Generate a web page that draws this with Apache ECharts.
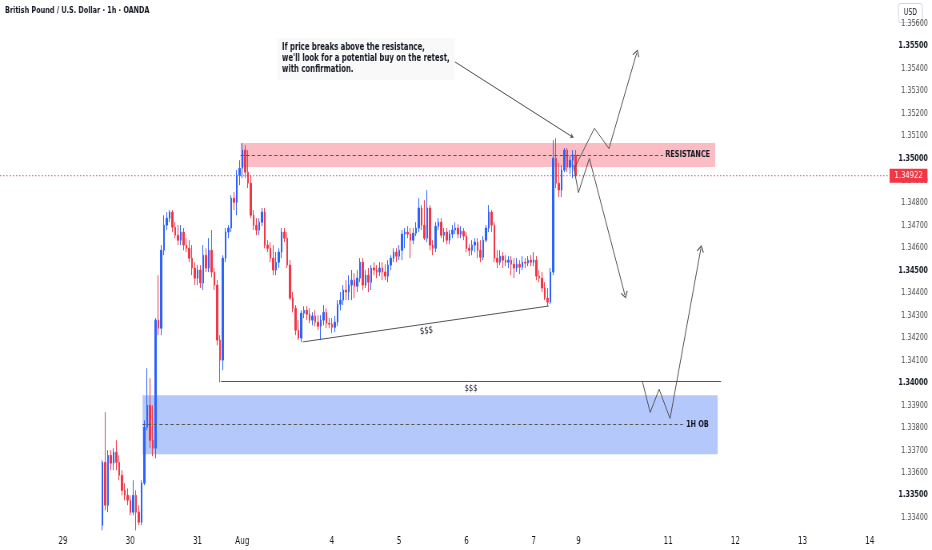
<!DOCTYPE html>
<html><head><meta charset="utf-8">
<script src="https://cdn.jsdelivr.net/npm/echarts@6/dist/echarts.min.js"></script>
<style>
html,body{margin:0;padding:0;background:#fff;overflow:hidden}
#wrap{width:932px;height:550px;overflow:hidden}
#c{width:1165px;height:550px;transform:scaleX(0.8);transform-origin:0 0}
</style>
</head><body><div id="wrap"><div id="c"></div></div>
<script>
const FONT = "'Liberation Sans Narrow','DejaVu Sans Condensed',Roboto,sans-serif";
const SX = 0.8; // horizontal squeeze of the page, matching the reference screenshot
const firstBar = 36;
const barCount = 317;
const opens = [1.33366,1.33646,1.33455,1.33677,1.33642,1.33691,1.33646,1.33588,1.33521,1.33499,1.33477,1.33424,1.33499,1.33424,1.33379,1.33553,1.33802,1.33900,1.33744,1.33709,
1.34279,1.34243,1.34590,1.34702,1.34733,1.34760,1.34693,1.34657,1.34635,1.34671,1.34613,1.34599,1.34555,1.34511,1.34466,1.34502,1.34444,1.34568,1.34511,1.34590,
1.34493,1.34435,1.34190,1.34101,1.34555,1.34671,1.34689,1.34822,1.34804,1.34924,1.34955,1.35036,1.34938,1.34889,1.34746,1.34702,1.34680,1.34715,1.34760,1.34613,
1.34599,1.34555,1.34502,1.34537,1.34582,1.34671,1.34644,1.34524,1.34377,1.34332,1.34234,1.34199,1.34310,1.34323,1.34305,1.34279,1.34297,1.34270,1.34252,1.34279,
1.34314,1.34265,1.34261,1.34247,1.34270,1.34350,1.34368,1.34413,1.34404,1.34435,1.34457,1.34430,1.34466,1.34537,1.34435,1.34479,1.34448,1.34511,1.34502,1.34493,
1.34511,1.34493,1.34475,1.34524,1.34555,1.34582,1.34564,1.34590,1.34662,1.34671,1.34662,1.34635,1.34666,1.34689,1.34778,1.34702,1.34644,1.34778,1.34613,1.34599,
1.34697,1.34715,1.34657,1.34671,1.34635,1.34662,1.34680,1.34689,1.34662,1.34675,1.34653,1.34599,1.34590,1.34613,1.34626,1.34590,1.34559,1.34635,1.34689,1.34760,
1.34702,1.34555,1.34537,1.34564,1.34546,1.34537,1.34546,1.34528,1.34511,1.34528,1.34515,1.34537,1.34533,1.34546,1.34537,1.34546,1.34475,1.34466,1.34422,1.34377,
1.34359,1.34493,1.35000,1.34889,1.34858,1.34947,1.35036,1.34960,1.34991,1.35014];
const closes = [1.33646,1.33455,1.33677,1.33642,1.33691,1.33646,1.33588,1.33521,1.33499,1.33477,1.33424,1.33499,1.33424,1.33379,1.33553,1.33802,1.33900,1.33744,1.33709,1.34279,
1.34243,1.34590,1.34702,1.34733,1.34760,1.34693,1.34657,1.34635,1.34671,1.34613,1.34599,1.34555,1.34511,1.34466,1.34502,1.34444,1.34568,1.34511,1.34590,1.34493,
1.34435,1.34190,1.34101,1.34555,1.34671,1.34689,1.34822,1.34804,1.34924,1.34955,1.35036,1.34938,1.34889,1.34746,1.34702,1.34680,1.34715,1.34760,1.34613,1.34599,
1.34555,1.34502,1.34537,1.34582,1.34671,1.34644,1.34524,1.34377,1.34332,1.34234,1.34199,1.34310,1.34323,1.34305,1.34279,1.34297,1.34270,1.34252,1.34279,1.34314,
1.34265,1.34261,1.34247,1.34270,1.34350,1.34368,1.34413,1.34404,1.34435,1.34457,1.34430,1.34466,1.34537,1.34435,1.34479,1.34448,1.34511,1.34502,1.34493,1.34511,
1.34493,1.34475,1.34524,1.34555,1.34582,1.34564,1.34590,1.34662,1.34671,1.34662,1.34635,1.34666,1.34689,1.34778,1.34702,1.34644,1.34778,1.34613,1.34599,1.34697,
1.34715,1.34657,1.34671,1.34635,1.34662,1.34680,1.34689,1.34662,1.34675,1.34653,1.34599,1.34590,1.34613,1.34626,1.34590,1.34559,1.34635,1.34689,1.34760,1.34702,
1.34555,1.34537,1.34564,1.34546,1.34537,1.34546,1.34528,1.34511,1.34528,1.34515,1.34537,1.34533,1.34546,1.34537,1.34546,1.34475,1.34466,1.34422,1.34377,1.34359,
1.34493,1.35000,1.34889,1.34858,1.34947,1.35036,1.34960,1.34991,1.35014,1.34922];
const lows = [1.33343,1.33432,1.33424,1.33611,1.33611,1.33611,1.33566,1.33499,1.33477,1.33455,1.33410,1.33410,1.33343,1.33366,1.33366,1.33544,1.33789,1.33709,1.33673,1.33664,
1.34212,1.34212,1.34568,1.34680,1.34715,1.34671,1.34644,1.34613,1.34613,1.34590,1.34582,1.34537,1.34479,1.34435,1.34435,1.34422,1.34413,1.34493,1.34493,1.34470,
1.34413,1.34167,1.34002,1.34056,1.34537,1.34644,1.34671,1.34769,1.34746,1.34880,1.34911,1.34911,1.34867,1.34733,1.34680,1.34657,1.34657,1.34697,1.34599,1.34582,
1.34537,1.34479,1.34479,1.34511,1.34555,1.34626,1.34511,1.34368,1.34314,1.34212,1.34190,1.34181,1.34288,1.34279,1.34265,1.34256,1.34252,1.34234,1.34190,1.34256,
1.34243,1.34243,1.34221,1.34225,1.34252,1.34323,1.34346,1.34368,1.34368,1.34368,1.34377,1.34404,1.34448,1.34413,1.34422,1.34404,1.34413,1.34479,1.34466,1.34475,
1.34457,1.34457,1.34448,1.34502,1.34537,1.34537,1.34546,1.34546,1.34599,1.34644,1.34555,1.34617,1.34653,1.34671,1.34680,1.34635,1.34626,1.34590,1.34568,1.34582,
1.34680,1.34644,1.34626,1.34617,1.34617,1.34644,1.34662,1.34644,1.34644,1.34635,1.34582,1.34564,1.34568,1.34582,1.34555,1.34537,1.34546,1.34626,1.34671,1.34671,
1.34537,1.34511,1.34524,1.34511,1.34519,1.34511,1.34479,1.34466,1.34493,1.34484,1.34502,1.34511,1.34519,1.34519,1.34519,1.34457,1.34448,1.34404,1.34368,1.34341,
1.34350,1.34479,1.34867,1.34827,1.34827,1.34938,1.34938,1.34929,1.34911,1.34911];
const highs = [1.33655,1.33869,1.33700,1.33700,1.33709,1.33744,1.33677,1.33611,1.33553,1.33530,1.33499,1.33566,1.33521,1.33455,1.33566,1.33833,1.34065,1.34020,1.33900,1.34288,
1.34479,1.34613,1.34746,1.34760,1.34769,1.34769,1.34715,1.34702,1.34702,1.34689,1.34644,1.34635,1.34613,1.34537,1.34524,1.34524,1.34613,1.34599,1.34644,1.34680,
1.34511,1.34457,1.34212,1.34568,1.34689,1.34702,1.34835,1.34849,1.34947,1.34991,1.35067,1.35058,1.35036,1.34924,1.34769,1.34733,1.34733,1.34778,1.34778,1.34635,
1.34626,1.34613,1.34582,1.34599,1.34689,1.34689,1.34671,1.34546,1.34404,1.34346,1.34279,1.34323,1.34341,1.34341,1.34332,1.34314,1.34323,1.34301,1.34301,1.34346,
1.34332,1.34288,1.34288,1.34297,1.34368,1.34404,1.34435,1.34457,1.34479,1.34502,1.34488,1.34502,1.34555,1.34555,1.34502,1.34511,1.34524,1.34537,1.34524,1.34537,
1.34537,1.34528,1.34546,1.34568,1.34599,1.34599,1.34613,1.34680,1.34689,1.34697,1.34689,1.34689,1.34715,1.34822,1.34791,1.34813,1.34858,1.34791,1.34635,1.34715,
1.34733,1.34733,1.34689,1.34689,1.34680,1.34702,1.34715,1.34706,1.34697,1.34689,1.34671,1.34617,1.34635,1.34644,1.34644,1.34635,1.34653,1.34702,1.34791,1.34769,
1.34715,1.34590,1.34590,1.34582,1.34568,1.34564,1.34564,1.34555,1.34555,1.34546,1.34564,1.34555,1.34564,1.34568,1.34582,1.34564,1.34502,1.34493,1.34448,1.34422,
1.34511,1.35080,1.35089,1.34978,1.34969,1.35045,1.35045,1.35014,1.35036,1.35036];
const lastPrice = 1.34922;
const dayTicks = [22,46,70,86,118,142,166,190,206,238,262,286,310];
const dayLabels = ['29','30','31','Aug','4','5','6','7','9','11','12','13','14'];
const priceMin = 1.333, priceMax = 1.357, priceStep = 0.001;

const resistanceZone = [[85.4,1.35068],[254.8,1.34961]];
const resistanceLine = [[85.4,1.35015],[236.2,1.35015]];
const obZone = [[50.4,1.33945],[255.7,1.33682]];
const obLine = [[50.4,1.33814],[243.3,1.33814]];
const sweepLow = [[78.4,1.34007],[256.9,1.34007]];
const sweepTrend = [[107.6,1.34182],[195.4,1.34342]];
const pointer = [[161.9,1.35429],[204.2,1.35092]];
const bullPath = [[204.8,1.34961],[211.7,1.35133],[216.9,1.35043],[226.8,1.35469]];
const bearPath = [[204.2,1.34969],[206.0,1.34847],[209.9,1.34999],[222.6,1.34390]];
const retestPath = [[228.8,1.34007],[231.6,1.33868],[234.8,1.33971],[238.7,1.33841],[249.7,1.34598]];

const CHEVRON = 'path://M0,9 L5,0 L10,9 L8.8,9.6 L5,2.6 L1.2,9.6 Z';
const LINE_C = '#4a4a4a';
const px = v => v / SX; // page pixel -> unsqueezed chart pixel

function segs(path, arrow) {
  const out = [];
  for (let k = 0; k < path.length - 1; k++) {
    const end = {coord: path[k + 1]};
    if (arrow && k === path.length - 2) { end.symbol = CHEVRON; end.symbolSize = [9, 7]; }
    out.push([{coord: path[k]}, end]);
  }
  return out;
}

const candleData = opens.map((o, k) => [firstBar + k, o, closes[k], lows[k], highs[k]]);

const lblStyle = {show: true, color: '#131722', fontFamily: FONT, fontSize: 9, fontWeight: 'bold'};

const annotationLines = [
  [{coord: resistanceLine[0], lineStyle: {type: [4, 3], color: '#555', width: 1},
    label: Object.assign({}, lblStyle, {position: 'end', formatter: 'RESISTANCE', distance: 3})},
   {coord: resistanceLine[1]}],
  [{coord: obLine[0], lineStyle: {type: [4, 3], color: '#555', width: 1},
    label: Object.assign({}, lblStyle, {position: 'end', formatter: '1H OB', distance: 4})},
   {coord: obLine[1]}],
  [{coord: sweepLow[0], lineStyle: {color: '#555', width: 1},
    label: Object.assign({}, lblStyle, {position: 'insideMiddleBottom', formatter: '$$$', distance: 2, fontWeight: 'normal', fontSize: 9.5})},
   {coord: sweepLow[1]}],
  [{coord: sweepTrend[0], lineStyle: {color: '#555', width: 1},
    label: Object.assign({}, lblStyle, {position: 'insideMiddleBottom', formatter: '$$$', distance: 2, fontWeight: 'normal', fontSize: 9.5})},
   {coord: sweepTrend[1]}],
  [{coord: pointer[0]}, {coord: pointer[1], symbol: 'arrow', symbolSize: [4, 4]}]
].concat(segs(bullPath, true), segs(bearPath, true), segs(retestPath, true));

const chart = echarts.init(document.getElementById('c'), null, {renderer: 'canvas'});
chart.setOption({
  animation: false,
  backgroundColor: '#ffffff',
  grid: {left: 0, right: px(44), top: 1, bottom: 10},
  xAxis: {
    type: 'value', min: -0.5, max: barCount - 0.5,
    offset: -8,
    axisLine: {show: false}, axisTick: {show: false}, splitLine: {show: false},
    axisLabel: {
      customValues: dayTicks, margin: 4,
      fontFamily: FONT, fontSize: 10, color: '#131722',
      formatter: v => dayLabels[dayTicks.indexOf(Math.round(v))] || ''
    }
  },
  yAxis: {
    type: 'value', position: 'right', min: priceMin, max: priceMax, interval: priceStep,
    axisLine: {show: false}, axisTick: {show: false}, splitLine: {show: false},
    axisLabel: {
      margin: px(40), align: 'right', fontFamily: FONT, fontSize: 9,
      formatter: v => {
        const k = Math.round(v * 1000);
        if (k <= Math.round(priceMin * 1000) || k >= Math.round(priceMax * 1000)) return '';
        const s = (k / 1000).toFixed(5);
        return k % 5 === 0 ? '{b|' + s + '}' : '{n|' + s + '}';
      },
      rich: {
        b: {fontFamily: FONT, fontSize: 9, fontWeight: 'bold', color: '#131722'},
        n: {fontFamily: FONT, fontSize: 9, color: '#4a4a4a'}
      }
    }
  },
  series: [
    {
      type: 'candlestick',
      data: candleData,
      encode: {x: 0, y: [1, 2, 3, 4]},
      barWidth: 2,
      itemStyle: {color: '#2962ff', color0: '#f23645', borderColor: '#2962ff', borderColor0: '#f23645', borderWidth: 1},
      emphasis: {disabled: true},
      markArea: {
        silent: true,
        data: [
          [{coord: resistanceZone[0], itemStyle: {color: '#fbbcc3'}}, {coord: resistanceZone[1]}],
          [{coord: obZone[0], itemStyle: {color: '#b5c8fc'}}, {coord: obZone[1]}]
        ]
      }
    },
    {
      type: 'line', data: [], silent: true,
      markLine: {
        silent: true, symbol: ['none', 'none'],
        lineStyle: {color: LINE_C, type: 'solid', width: 1},
        label: {show: false},
        emphasis: {disabled: true},
        data: annotationLines
      }
    },
    {
      name: 'last', type: 'line', silent: true, z: 20,
      data: [[-0.5, lastPrice], [barCount - 0.5, lastPrice]],
      symbol: 'none', color: '#f23645',
      lineStyle: {color: '#f23645', type: [1.5, 2.5], width: 1},
      emphasis: {disabled: true},
      endLabel: {
        show: true, distance: 2,
        formatter: () => lastPrice.toFixed(5),
        backgroundColor: '#f23645', color: '#ffffff', padding: [2, 6, 2, 6],
        fontFamily: FONT, fontSize: 9.5
      }
    }
  ],
  graphic: [
    {type: 'text', left: px(5), top: 6, z: 10,
     style: {text: 'British Pound / U.S. Dollar · 1h · OANDA', font: '600 9px ' + FONT, fill: '#131722'}},
    {type: 'rect', left: px(277), top: 38, z: 9, shape: {width: px(178), height: 42}, style: {fill: 'rgba(0,0,0,0.025)'}},
    {type: 'text', left: px(282), top: 42, z: 10,
     style: {text: 'If price breaks above the resistance,\nwe\'ll look for a potential buy on the retest,\nwith confirmation.',
             font: 'bold 9.6px ' + FONT, fill: '#131722', lineHeight: 11}},
    {type: 'group', left: px(898), top: 3, z: 10, children: [
      {type: 'rect', shape: {x: 0, y: 0, width: px(24), height: 19, r: 3}, style: {fill: '#fff', stroke: '#d1d4dc', lineWidth: 1}},
      {type: 'text', style: {text: 'USD', x: px(12), y: 9.5, align: 'center', verticalAlign: 'middle', font: '8.5px ' + FONT, fill: '#131722'}}
    ]}
  ]
});
</script></body></html>
